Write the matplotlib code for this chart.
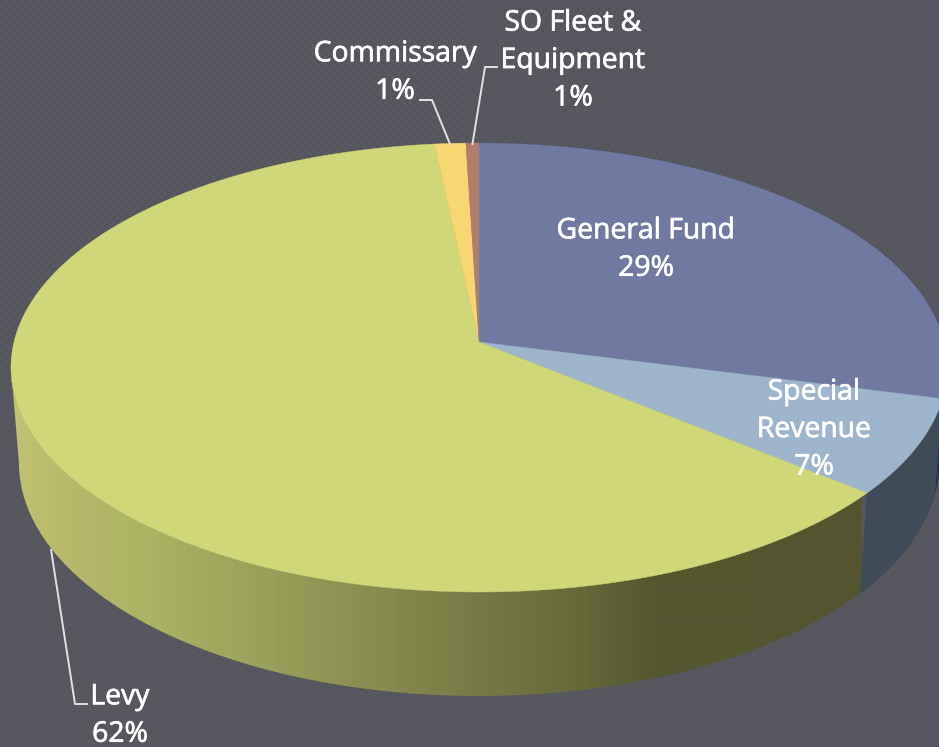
import numpy as np
import matplotlib
matplotlib.use("Agg")
import matplotlib.pyplot as plt
import matplotlib.patheffects as pe
from matplotlib.colors import LinearSegmentedColormap
from matplotlib.patches import Polygon

# ---- data
categories = ["General Fund", "Special\nRevenue", "Levy", "Commissary", "SO Fleet &\nEquipment"]
values = [29.0, 6.9, 62.4, 1.2, 0.5]
pct_labels = ["29%", "7%", "62%", "1%", "1%"]
top_colors = ["#6f79a1", "#9db5cc", "#d0d778", "#f8d672", "#b07e6a"]
side_colors = ["#2c3150", "#3f4b57", None, "#8f7f45", "#6b4a3c"]
levy_side = LinearSegmentedColormap.from_list(
    "levy",
    [(0.00, "#c2c274"), (0.08, "#b6b66a"), (0.14, "#adb565"), (0.30, "#99a05a"),
     (0.50, "#7f8149"), (0.66, "#676a3a"), (0.76, "#54572f"), (1.00, "#54552e")],
)

# ---- layout of the perspective disc (pixel space)
CX, CY = 479.0, 342.0
RX, RY, K = 465.0, 221.6, 0.1136
XS, YS, Y0 = 0.983, 1.04, 436.0
W, H = 939, 747


def rim(theta):
    """theta: clockwise from the top of the disc, radians; returns offsets from the apex."""
    u, v = np.sin(theta), np.cos(theta)
    d = 1 + K * v
    return RX * u / d, -RY * v / d


def top_pt(theta):
    dx, dy = rim(theta)
    return CX + dx, CY + dy


def low_pt(theta):
    dx, dy = rim(theta)
    return CX + XS * dx, Y0 + YS * dy


fig = plt.figure(figsize=(W / 100, H / 100), dpi=100)
ax = fig.add_axes([0, 0, 1, 1])
ax.set_xlim(0, W)
ax.set_ylim(H, 0)
ax.axis("off")
fig.patch.set_facecolor("#56565e")

# subtle dithered backdrop
yy, xx = np.mgrid[0:H // 4 + 1, 0:W // 4 + 1]
tile = ((xx + yy) % 2) * 1.0
bg = np.zeros(tile.shape + (3,))
bg[..., 0] = (85 + 3 * tile) / 255
bg[..., 1] = (85 + 3 * tile) / 255
bg[..., 2] = (93 + 3 * tile) / 255
ax.imshow(bg, extent=(0, W, H, 0), interpolation="nearest", aspect="auto", zorder=0)

total = sum(values)
edges = 2 * np.pi * np.cumsum([0] + values) / total

# outer wall: only the part in front of the left-most rim point is visible
fine = np.linspace(np.pi, 2 * np.pi, 721)
t_left = fine[np.argmin(top_pt(fine)[0])]
for i in range(len(values)):
    if edges[i] >= t_left:
        continue  # back of the disc, hidden by the top face
    start, stop = edges[i], min(edges[i + 1], t_left)
    ts = np.linspace(start, stop, max(int((stop - start) * 120), 4))
    tx, ty = top_pt(ts)
    lx, ly = low_pt(ts)
    pts = np.column_stack([np.r_[tx, lx[::-1]], np.r_[ty, ly[::-1]]])
    if side_colors[i] is None:
        patch = Polygon(pts, closed=True, facecolor="none", edgecolor="none", zorder=2)
        ax.add_patch(patch)
        grad = np.linspace(0, 1, 850)[None, :]
        im = ax.imshow(grad, cmap=levy_side, extent=(12, 862, H, 0), aspect="auto",
                       interpolation="bilinear", zorder=2)
        im.set_clip_path(patch)
    else:
        ax.add_patch(Polygon(pts, closed=True, facecolor=side_colors[i],
                             edgecolor=side_colors[i], lw=0.3, zorder=2.1))
ax.set_xlim(0, W)
ax.set_ylim(H, 0)

# top face
for i in range(len(values)):
    ts = np.linspace(edges[i], edges[i + 1], max(int((edges[i + 1] - edges[i]) * 120), 4))
    xs, ys = top_pt(ts)
    pts = np.column_stack([np.r_[CX, xs], np.r_[CY, ys]])
    ax.add_patch(Polygon(pts, closed=True, facecolor=top_colors[i], edgecolor=top_colors[i],
                         lw=0.3, zorder=3))

# labels
LINE = "#e2e2e4"
FONT = dict(family="Open Sans", color="white", fontsize=20.4, ha="center", va="center",
            linespacing=1.45, zorder=6,
            path_effects=[pe.withStroke(linewidth=0.5, foreground="white")])


def label(i, x, y):
    ax.text(x, y, f"{categories[i]}\n{pct_labels[i]}", **FONT)


label(0, 646, 250)
label(1, 814, 430)
label(2, 120, 716)
label(3, 395, 73)
label(4, 573, 61)

mid = (edges[:-1] + edges[1:]) / 2
px, py = top_pt(mid[3])
ax.plot([420, 432, px], [100, 100, py + 1], color=LINE, lw=1.4, zorder=5)
px, py = top_pt(mid[4])
ax.plot([497, 485, px], [67, 67, py + 1], color=LINE, lw=1.4, zorder=5)
px, py = low_pt(mid[2])
ax.plot([87, 75, px - 3], [704, 704, py - 2], color=LINE, lw=1.4, zorder=5)

fig.savefig("out.png", dpi=100, facecolor=fig.get_facecolor())
